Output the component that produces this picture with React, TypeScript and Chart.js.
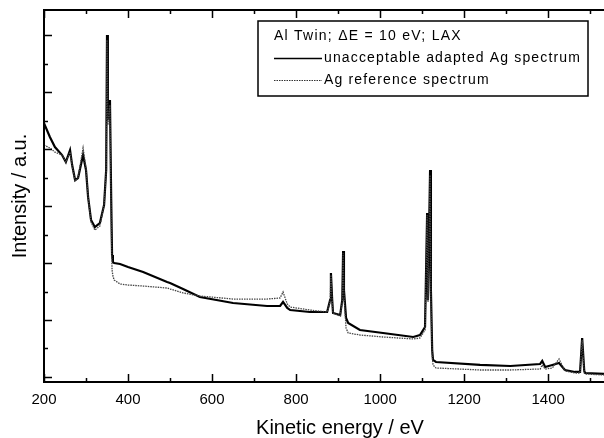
import React, { useEffect, useRef } from 'react';
import { Chart, registerables } from 'chart.js';

Chart.register(...registerables);

// Kinetic energy (eV)
const energies = [
  200, 214, 226, 243, 252, 262, 267, 274, 281, 293, 300, 305, 312, 321, 333, 343, 348, 350, 352, 357,
  360, 362, 364, 367, 381, 400, 436, 493, 500, 531, 571, 650, 731, 762, 769, 779, 786, 833, 874, 881,
  883, 886, 888, 905, 910, 912, 914, 919, 924, 952, 1007, 1079, 1095, 1107, 1112, 1114, 1119, 1121, 1124, 1126,
  1133, 1238, 1310, 1381, 1386, 1393, 1410, 1426, 1440, 1464, 1476, 1481, 1486, 1488, 1533,
];

// unacceptable adapted Ag spectrum (a.u.)
const adaptedSpectrum = [
  4.456, 4.211, 4.035, 3.895, 3.772, 3.982, 3.719, 3.456, 3.491, 3.895, 3.632, 3.158, 2.754, 2.632, 2.702, 3.018, 3.632, 6.0, 4.509, 4.86,
  3.105, 2.14, 2.018, 2.0, 1.982, 1.93, 1.842, 1.667, 1.649, 1.544, 1.404, 1.298, 1.246, 1.246, 1.316, 1.211, 1.175, 1.14, 1.14, 1.351,
  1.825, 1.351, 1.123, 1.088, 1.351, 2.211, 1.526, 1.035, 0.947, 0.825, 0.772, 0.702, 0.737, 0.877, 2.877, 1.351, 3.632, 1.526, 0.474, 0.298,
  0.263, 0.211, 0.193, 0.228, 0.281, 0.175, 0.211, 0.246, 0.123, 0.088, 0.088, 0.684, 0.105, 0.07, 0.053,
];

// Ag reference spectrum (a.u.)
const referenceSpectrum = [
  4.07, 4.018, 3.947, 3.895, 3.772, 3.947, 3.702, 3.439, 3.491, 4.018, 3.667, 3.158, 2.719, 2.579, 2.649, 3.018, 3.596, 5.912, 4.421, 4.772,
  2.754, 1.877, 1.772, 1.702, 1.632, 1.614, 1.596, 1.561, 1.544, 1.474, 1.421, 1.368, 1.368, 1.386, 1.491, 1.281, 1.228, 1.175, 1.14, 1.316,
  1.789, 1.316, 1.123, 1.07, 1.316, 2.175, 1.439, 0.86, 0.772, 0.737, 0.702, 0.667, 0.684, 0.825, 2.842, 1.316, 3.544, 1.351, 0.386, 0.211,
  0.158, 0.123, 0.123, 0.14, 0.211, 0.14, 0.158, 0.316, 0.105, 0.07, 0.07, 0.649, 0.07, 0.053, 0.035,
];

const legendTitle = 'Al Twin; \u0394E = 10 eV; LAX';
const seriesNames = ['unacceptable adapted Ag spectrum', 'Ag reference spectrum'];
const xAxisTitle = 'Kinetic energy / eV';
const xMajorTicks = [200, 400, 600, 800, 1000, 1200, 1400];

const FONT = '"Liberation Sans", Arial, sans-serif';

const framePlugin = {
  id: 'frame',
  afterDraw(chart: any) {
    const { ctx, chartArea: a, scales } = chart;
    const x = scales.x;
    const y = scales.y;
    ctx.save();
    ctx.strokeStyle = '#000';
    ctx.lineWidth = 2;
    ctx.beginPath();
    ctx.moveTo(a.right + 2, a.top);
    ctx.lineTo(a.left, a.top);
    ctx.lineTo(a.left, a.bottom);
    ctx.lineTo(a.right + 2, a.bottom);
    ctx.stroke();

    ctx.lineWidth = 1.5;
    ctx.beginPath();
    for (let v = 200; v <= 1500; v += 100) {
      const px = Math.round(x.getPixelForValue(v)) + 0.5;
      const len = xMajorTicks.includes(v) || v % 200 === 0 ? 8 : 4;
      ctx.moveTo(px, a.bottom);
      ctx.lineTo(px, a.bottom - len);
      ctx.moveTo(px, a.top);
      ctx.lineTo(px, a.top + len);
    }
    for (let i = 0; i <= 12; i++) {
      const v = i * 0.5;
      const py = Math.round(y.getPixelForValue(v)) + 0.5;
      const len = i % 2 === 0 ? 8 : 4;
      ctx.moveTo(a.left, py);
      ctx.lineTo(a.left + len, py);
    }
    ctx.stroke();

    // x-axis title (centred on the original, wider plot frame)
    ctx.fillStyle = '#000';
    ctx.font = '20px ' + FONT;
    ctx.textAlign = 'center';
    ctx.textBaseline = 'alphabetic';
    ctx.fillText(xAxisTitle, 340, 434);

    // legend box
    const bx = 258, by = 21, bw = 330, bh = 75;
    ctx.fillStyle = '#fff';
    ctx.fillRect(bx, by, bw, bh);
    ctx.lineWidth = 1.5;
    ctx.strokeRect(bx, by, bw, bh);
    ctx.fillStyle = '#000';
    ctx.font = '14px ' + FONT;
    ctx.textBaseline = 'middle';
    ctx.textAlign = 'left';
    try { (ctx as any).letterSpacing = '1.25px'; } catch (e) {}
    ctx.fillText(legendTitle, 274, 36);
    try { (ctx as any).letterSpacing = '1.15px'; } catch (e) {}
    ctx.fillText(seriesNames[0], 324, 58.5);
    ctx.fillText(seriesNames[1], 324, 80);
    try { (ctx as any).letterSpacing = '0px'; } catch (e) {}
    ctx.lineWidth = 1.6;
    ctx.beginPath();
    ctx.moveTo(274, 58.5);
    ctx.lineTo(322, 58.5);
    ctx.stroke();
    ctx.setLineDash([1.5, 1]);
    ctx.strokeStyle = '#333';
    ctx.lineWidth = 1.2;
    ctx.beginPath();
    ctx.moveTo(274, 80.5);
    ctx.lineTo(322, 80.5);
    ctx.stroke();
    ctx.restore();
  },
};

export default function App() {
  const ref = useRef<HTMLCanvasElement | null>(null);
  useEffect(() => {
    if (!ref.current) return;
    const chart = new Chart(ref.current, {
      type: 'line',
      data: {
        datasets: [
          {
            label: seriesNames[1],
            data: energies.map((e, i) => ({ x: e, y: referenceSpectrum[i] })),
            borderColor: '#444',
            borderWidth: 1.3,
            borderDash: [1.5, 1],
            pointRadius: 0,
            tension: 0,
          },
          {
            label: seriesNames[0],
            data: energies.map((e, i) => ({ x: e, y: adaptedSpectrum[i] })),
            borderColor: '#000',
            borderWidth: 2.2,
            pointRadius: 0,
            tension: 0,
          },
        ],
      },
      options: {
        responsive: false,
        animation: false,
        layout: { padding: { top: 10, right: 0, left: 0, bottom: 0 } },
        plugins: { legend: { display: false }, tooltip: { enabled: false } },
        scales: {
          x: {
            type: 'linear',
            min: 200,
            max: 1533,
            grid: { display: false, drawTicks: false },
            border: { display: false },
            ticks: {
              stepSize: 200,
              includeBounds: false,
              padding: 9,
              color: '#000',
              font: { family: FONT, size: 15 },
              callback: (v: any) => String(v),
              maxRotation: 0,
            },
            title: { display: false, text: xAxisTitle },
            afterFit: (s: any) => { s.height = 56; },
          },
          y: {
            type: 'linear',
            min: -0.088,
            max: 6.44,
            grid: { display: false, drawTicks: false },
            border: { display: false },
            ticks: { display: false },
            title: {
              display: true,
              text: 'Intensity / a.u.',
              color: '#000',
              font: { family: FONT, size: 20 },
              padding: { top: 8, bottom: 0 },
            },
            afterFit: (s: any) => { s.width = 44; },
          },
        },
      },
      plugins: [framePlugin],
    });
    return () => chart.destroy();
  }, []);
  return (
    <div style={{ position: 'fixed', left: 0, top: 0, width: 604, height: 438, background: '#fff' }}>
      <canvas ref={ref} width={604} height={438} />
    </div>
  );
}
